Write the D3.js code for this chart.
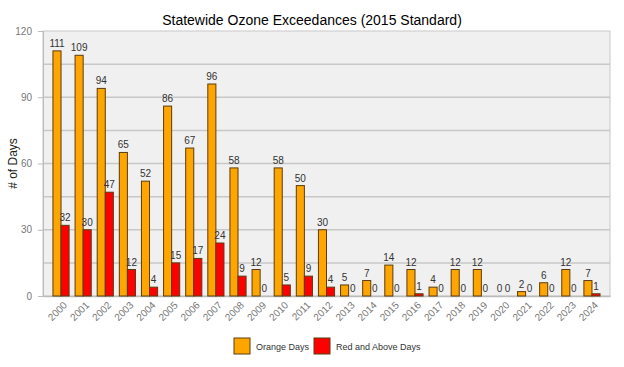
<!DOCTYPE html>
<html>
<head>
<meta charset="utf-8">
<script src="https://cdn.jsdelivr.net/npm/d3@7"></script>
<style>
  body { margin: 0; background: #fff; font-family: Arial, "Liberation Sans", sans-serif; }
</style>
</head>
<body>
<svg id="chart"></svg>
<script>
const years = ["2000","2001","2002","2003","2004","2005","2006","2007","2008","2009","2010","2011","2012",
  "2013","2014","2015","2016","2017","2018","2019","2020","2021","2022","2023","2024"];
const orangeDays = [111,109,94,65,52,86,67,96,58,12,58,50,30,5,7,14,12,4,12,12,0,2,6,12,7];
const redDays = [32,30,47,12,4,15,17,24,9,0,5,9,4,0,0,0,1,0,0,0,0,0,0,0,1];
const seriesNames = ["Orange Days", "Red and Above Days"];
const seriesColors = ["#ffa500", "#ff0000"];
const yTicks = [0, 30, 60, 90, 120];

const width = 624, height = 367;
const margin = { top: 31, right: 14, bottom: 71, left: 43 };
const innerW = width - margin.left - margin.right,
    innerH = height - margin.top - margin.bottom;

const svg = d3.select("#chart")
    .attr("width", width)
    .attr("height", height);

svg.append("text")
    .attr("x", 312)
    .attr("y", 25)
    .attr("text-anchor", "middle")
    .attr("font-size", 14)
    .attr("fill", "#000")
    .text("Statewide Ozone Exceedances (2015 Standard)");

const g = svg.append("g")
    .attr("transform", "translate(" + margin.left + "," + margin.top + ")");

const x = d3.scaleBand()
    .domain(years)
    .range([0, innerW])
    .paddingInner(0.27)
    .paddingOuter(0.45);

const x1 = d3.scaleBand()
    .domain(seriesNames)
    .range([0, x.bandwidth()]);

const y = d3.scaleLinear()
    .domain([0, 120])
    .range([innerH, 0]);

// background
g.append("rect")
    .attr("width", innerW)
    .attr("height", innerH)
    .attr("fill", "#f0f0f0")
    .attr("stroke", "#c8c8c8");

// gridlines every 15
g.append("g")
    .selectAll("line")
    .data(d3.range(15, 120, 15))
    .enter().append("line")
    .attr("x1", 0)
    .attr("x2", innerW)
    .attr("y1", d => y(d))
    .attr("y2", d => y(d))
    .attr("stroke", "#c8c8c8")
    .attr("stroke-width", 1.5);

const yAxis = g.append("g")
    .call(d3.axisLeft(y).tickValues(yTicks).tickSize(5).tickPadding(6));
yAxis.select(".domain").attr("stroke", "#bbb");
yAxis.selectAll(".tick line").attr("stroke", "#bbb");
yAxis.selectAll("text").attr("fill", "#777").attr("font-size", 10).attr("font-family", "Arial, sans-serif");

const xAxis = g.append("g")
    .attr("transform", "translate(0," + innerH + ")")
    .call(d3.axisBottom(x).tickSize(0).tickPadding(8));
xAxis.select(".domain").attr("stroke", "#bbb").attr("stroke-width", 1.5);
xAxis.selectAll("text")
    .attr("fill", "#777")
    .attr("font-size", 10)
    .attr("font-family", "Arial, sans-serif")
    .attr("text-anchor", "end")
    .attr("dy", "0.3em")
    .attr("transform", "translate(-1,2) rotate(-45)");

const rows = years.map((yr, i) => ({ year: yr, values: [orangeDays[i], redDays[i]] }));

const grp = g.selectAll(".yr")
    .data(rows)
    .enter().append("g")
    .attr("transform", d => "translate(" + x(d.year) + ",0)");

grp.selectAll("rect")
    .data(d => d.values.map((v, k) => ({ v: v, k: k })))
    .enter().append("rect")
    .filter(d => d.v > 0)
    .attr("x", d => x1(seriesNames[d.k]))
    .attr("y", d => y(d.v))
    .attr("width", x1.bandwidth())
    .attr("height", d => y(0) - y(d.v))
    .attr("fill", d => seriesColors[d.k])
    .attr("stroke", "#5a3c10")
    .attr("stroke-width", 1);

grp.selectAll(".lbl")
    .data(d => d.values.map((v, k) => ({ v: v, k: k })))
    .enter().append("text")
    .attr("x", d => x1(seriesNames[d.k]) + x1.bandwidth() / 2)
    .attr("y", d => y(d.v) - 4)
    .attr("text-anchor", "middle")
    .attr("font-size", 10)
    .attr("fill", "#333")
    .text(d => d.v);

// y axis title
svg.append("text")
    .attr("transform", "translate(17," + (margin.top + innerH / 2) + ") rotate(-90)")
    .attr("text-anchor", "middle")
    .attr("font-size", 12)
    .attr("fill", "#222")
    .text("# of Days");

// legend
const legend = svg.append("g").attr("transform", "translate(234,338)");
const legX = [0, 80];
seriesNames.forEach((name, i) => {
    legend.append("rect")
        .attr("x", legX[i])
        .attr("y", 0)
        .attr("width", 16)
        .attr("height", 16)
        .attr("fill", seriesColors[i])
        .attr("stroke", "#5a3c10");
    legend.append("text")
        .attr("x", legX[i] + 22)
        .attr("y", 12)
        .attr("font-size", 9)
        .attr("fill", "#333")
        .text(name);
});
</script>
</body>
</html>
